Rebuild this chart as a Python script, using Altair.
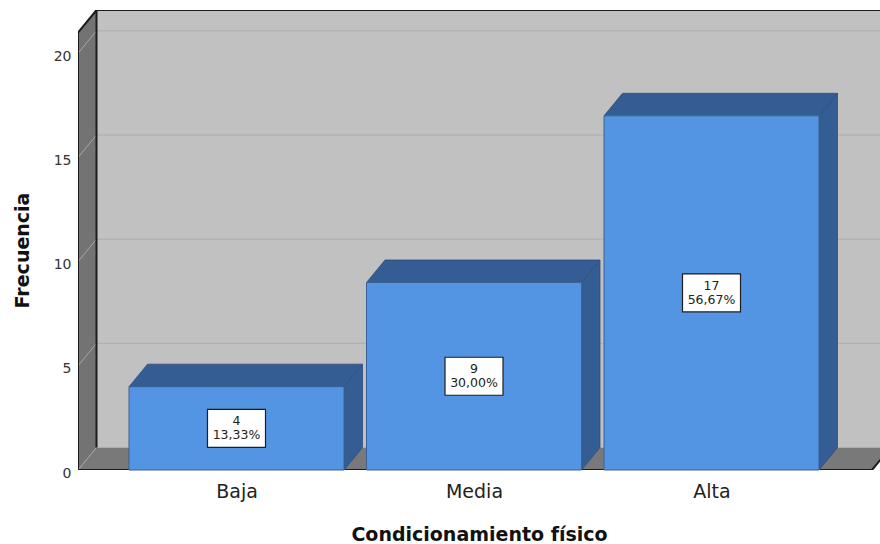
import json

import altair as alt
import pandas as pd

# ---- data -------------------------------------------------------------
categorias = ["Baja", "Media", "Alta"]
frecuencias = [4, 9, 17]
porcentajes = ["13,33%", "30,00%", "56,67%"]
ticks_y = [0, 5, 10, 15, 20]

# ---- pseudo-3D geometry (expressed in axis units) ---------------------
PX_X = 237.5                      # pixels between category centres
X_LEFT = -158.5 / PX_X            # left end of the x scale
X_RIGHT = X_LEFT + 802 / PX_X     # right end of the x scale
DX = 18.5 / PX_X                  # horizontal depth of the box
HALF = 107.5 / PX_X               # half bar width
FLOOR_RIGHT = X_LEFT + 794 / PX_X

Y_TOP = 21                        # top of the front frame
PX_Y = (460 - 22.5) / Y_TOP
DY = 22.5 / PX_Y                  # vertical depth of the box
Y_MAX = Y_TOP + DY

FONT = "DejaVu Sans"

xs = alt.Scale(domain=[X_LEFT, X_RIGHT], nice=False, zero=False)
ys = alt.Scale(domain=[0, Y_MAX], nice=False, zero=False)

label_expr = f"{json.dumps(categorias)}[datum.value]"

# the same axis definitions go on every layer so they merge into one
AX_X = alt.Axis(
    values=[0, 1, 2],
    labelExpr=label_expr,
    title="Condicionamiento físico",
    ticks=False,
    domain=False,
    grid=False,
    labelFont=FONT,
    labelFontSize=19,
    labelColor="#222222",
    labelPadding=12,
    titleFont=FONT,
    titleFontSize=19,
    titleFontWeight="bold",
    titleColor="#111111",
    titleBaseline="alphabetic",
    titleY=70,
)

AX_Y = alt.Axis(
    values=ticks_y,
    title="Frecuencia",
    ticks=False,
    domain=False,
    grid=False,
    labelFont=FONT,
    labelFontSize=14,
    labelColor="#333333",
    labelPadding=7,
    labelOffset=3,
    titleFont=FONT,
    titleFontSize=19,
    titleFontWeight="bold",
    titleColor="#111111",
    titleAngle=270,
    titleAlign="center",
    titleBaseline="alphabetic",
    titleX=-50,
    titleY=240,
)


def X(field):
    return alt.X(f"{field}:Q", scale=xs, axis=AX_X)


def Y(field):
    return alt.Y(f"{field}:Q", scale=ys, axis=AX_Y)


# ---- frame: back wall, left wall, floor -------------------------------
back_wall = alt.Chart(
    pd.DataFrame([{"x": X_LEFT + DX, "x2": X_RIGHT, "y": DY, "y2": Y_MAX}])
).mark_rect(color="#c1c1c1").encode(x=X("x"), x2="x2", y=Y("y"), y2="y2")

back_grid = alt.Chart(
    pd.DataFrame([{"x": X_LEFT + DX, "x2": X_RIGHT, "y": v + DY} for v in ticks_y[1:]])
).mark_rule(color="#acacac", strokeWidth=1).encode(x=X("x"), x2="x2", y=Y("y"))

left_wall = alt.Chart(
    pd.DataFrame([
        {"x": X_LEFT, "y": 0, "y2": Y_TOP},
        {"x": X_LEFT + DX, "y": DY, "y2": Y_MAX},
    ])
).mark_area(color="#737373", orient="vertical").encode(x=X("x"), y=Y("y"), y2="y2")

floor = alt.Chart(
    pd.DataFrame([
        {"y": 0, "x": X_LEFT, "x2": FLOOR_RIGHT},
        {"y": DY, "x": X_LEFT + DX, "x2": FLOOR_RIGHT + DX},
    ])
).mark_area(color="#797979", orient="horizontal", clip=True).encode(
    y=Y("y"), x=X("x"), x2="x2"
)

left_grid = alt.Chart(
    pd.DataFrame([{"x": X_LEFT, "x2": X_LEFT + DX, "y": v, "y2": v + DY} for v in ticks_y])
).mark_rule(color="#a6a6a6", strokeWidth=1).encode(x=X("x"), x2="x2", y=Y("y"), y2="y2")

edges = alt.Chart(
    pd.DataFrame([
        {"x": X_LEFT, "x2": X_LEFT, "y": 0, "y2": Y_TOP},
        {"x": X_LEFT + DX, "x2": X_LEFT + DX, "y": DY, "y2": Y_MAX},
        {"x": X_LEFT, "x2": X_LEFT + DX, "y": Y_TOP, "y2": Y_MAX},
        {"x": X_LEFT + DX, "x2": X_RIGHT, "y": Y_MAX, "y2": Y_MAX},
        {"x": X_LEFT, "x2": FLOOR_RIGHT, "y": 0, "y2": 0},
        {"x": FLOOR_RIGHT, "x2": FLOOR_RIGHT + DX, "y": 0, "y2": DY},
    ])
).mark_rule(color="#1c1c1c", strokeWidth=2, clip=True).encode(
    x=X("x"), x2="x2", y=Y("y"), y2="y2"
)

# ---- bars -------------------------------------------------------------
side_rows, top_rows, front_rows, label_rows = [], [], [], []
for i, (cat, f, pct) in enumerate(zip(categorias, frecuencias, porcentajes)):
    side_rows += [
        {"cat": cat, "x": i + HALF, "y": 0, "y2": f},
        {"cat": cat, "x": i + HALF + DX, "y": DY, "y2": f + DY},
    ]
    top_rows += [
        {"cat": cat, "y": f, "x": i - HALF, "x2": i + HALF},
        {"cat": cat, "y": f + DY, "x": i - HALF + DX, "x2": i + HALF + DX},
    ]
    front_rows.append({"cat": cat, "x": i - HALF, "x2": i + HALF, "y": 0, "y2": f})
    label_rows.append({"cat": cat, "x": i, "y": f / 2, "n": str(f), "pct": pct})

DARK_BLUE = "#345d93"
EDGE_BLUE = "#2c4f80"

bar_side = alt.Chart(pd.DataFrame(side_rows)).mark_area(
    orient="vertical", color=DARK_BLUE, stroke=EDGE_BLUE, strokeWidth=0.8
).encode(x=X("x"), y=Y("y"), y2="y2", detail="cat:N")

bar_top = alt.Chart(pd.DataFrame(top_rows)).mark_area(
    orient="horizontal", color=DARK_BLUE, stroke=EDGE_BLUE, strokeWidth=0.8
).encode(y=Y("y"), x=X("x"), x2="x2", detail="cat:N")

bar_front = alt.Chart(pd.DataFrame(front_rows)).mark_rect(
    color="#5395e3", stroke="#3b6296", strokeWidth=1
).encode(x=X("x"), x2="x2", y=Y("y"), y2="y2")

# ---- value labels: boxed count over percentage -------------------------
labels = alt.Chart(pd.DataFrame(label_rows))

label_box = labels.mark_point(
    shape="M-1,-0.655L1,-0.655L1,0.655L-1,0.655Z",
    size=58 ** 2,
    filled=True,
    fill="white",
    stroke="#1e1e1e",
    strokeWidth=1.2,
    opacity=1,
).encode(x=X("x"), y=Y("y"))

text_style = dict(font=FONT, fontSize=12.5, color="#222222", align="center", baseline="middle")

label_n = labels.mark_text(dy=-7, **text_style).encode(x=X("x"), y=Y("y"), text="n:N")
label_pct = labels.mark_text(dy=7, **text_style).encode(x=X("x"), y=Y("y"), text="pct:N")

chart = alt.layer(
    back_wall,
    back_grid,
    left_wall,
    floor,
    left_grid,
    edges,
    bar_side,
    bar_top,
    bar_front,
    label_box,
    label_n,
    label_pct,
).properties(
    width=802,
    height=460,
    autosize=alt.AutoSizeParams(type="none"),
    padding={"left": 78, "top": 10, "right": 0, "bottom": 74},
    background="white",
).configure_view(stroke=None)

chart.save("out.html", embed_options={"renderer": "svg", "actions": False})
